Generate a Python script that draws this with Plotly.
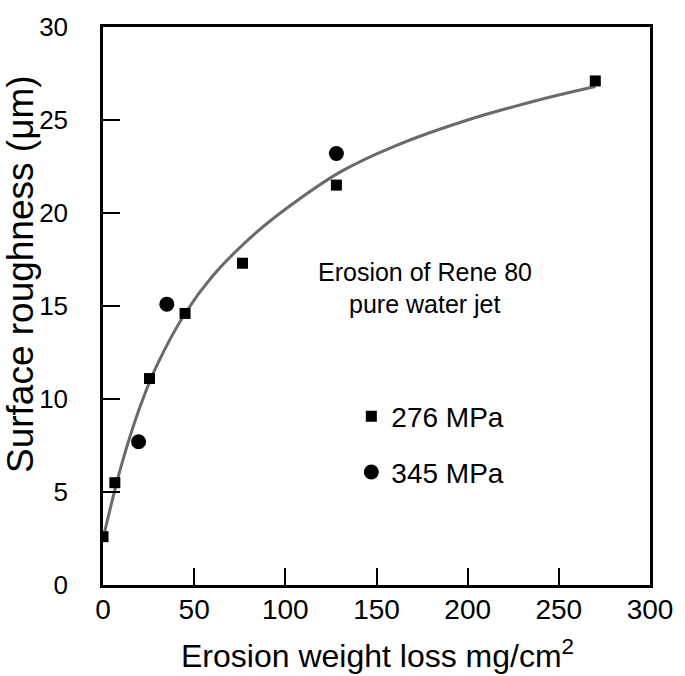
import plotly.graph_objects as go

# Data
x_276 = [0, 6.5, 25.5, 45, 76.5, 128, 270]
y_276 = [2.6, 5.5, 11.1, 14.6, 17.3, 21.5, 27.1]

x_345 = [19.5, 35, 128]
y_345 = [7.7, 15.1, 23.2]

# Trend curve as traced on the picture
curve_x = [1, 10, 20, 30, 45, 60, 80, 100, 130, 160, 200, 240, 270]
curve_y = [2.9, 6.4, 9.5, 11.9, 14.6, 16.6, 18.6, 20.2, 22.2, 23.6, 25.0, 26.1, 26.8]

x_ticks = [0, 50, 100, 150, 200, 250, 300]
y_ticks = [0, 5, 10, 15, 20, 25, 30]

FONT = "Liberation Sans, Arial, sans-serif"

fig = go.Figure()

fig.add_trace(go.Scatter(
    x=curve_x, y=curve_y, mode="lines",
    line=dict(color="#6a6a6a", width=3, shape="spline", smoothing=0.9),
    showlegend=False, hoverinfo="skip",
))

fig.add_trace(go.Scatter(
    x=x_276, y=y_276, mode="markers", name="276 MPa",
    marker=dict(symbol="square", size=11, color="black"),
    legend="legend",
))

fig.add_trace(go.Scatter(
    x=x_345, y=y_345, mode="markers", name="345 MPa",
    marker=dict(symbol="circle", size=15, color="black"),
    legend="legend2",
))

axis_common = dict(
    showline=True, linecolor="black", linewidth=2.5, mirror=True,
    ticks="inside", ticklen=17, tickwidth=2, tickcolor="black",
    showgrid=False, zeroline=False, ticklabeloverflow="allow",
)

fig.update_xaxes(range=[0, 300], tickvals=x_ticks, ticklabelstandoff=-2,
                 tickfont=dict(family=FONT, size=28, color="black"), **axis_common)
fig.update_yaxes(range=[0, 30], tickvals=y_ticks, ticklabelstandoff=27,
                 tickfont=dict(family=FONT, size=26, color="black"), **axis_common)

legend_common = dict(
    font=dict(family=FONT, size=28, color="black"),
    bgcolor="rgba(0,0,0,0)", borderwidth=0,
    xanchor="left", yanchor="middle",
)

fig.update_layout(
    width=685, height=676,
    margin=dict(l=103, r=26, t=15, b=91),
    paper_bgcolor="white", plot_bgcolor="white",
    font=dict(family=FONT, color="black"),
    legend=dict(x=0.454, y=0.302, **legend_common),
    legend2=dict(x=0.454, y=0.202, **legend_common),
    annotations=[
        dict(text="Erosion of Rene 80", xref="paper", yref="paper",
             x=0.588, y=0.561, xanchor="center", yanchor="middle", showarrow=False,
             font=dict(family=FONT, size=25, color="black")),
        dict(text="pure water jet", xref="paper", yref="paper",
             x=0.588, y=0.503, xanchor="center", yanchor="middle", showarrow=False,
             font=dict(family=FONT, size=25, color="black")),
        dict(text="Erosion weight loss mg/cm<sup>2</sup>", xref="paper", yref="paper",
             x=0.502, y=-0.123, xanchor="center", yanchor="middle", showarrow=False,
             font=dict(family=FONT, size=32, color="black")),
        dict(text="Surface roughness (μm)", xref="paper", yref="paper",
             x=-0.152, y=0.557, xanchor="center", yanchor="middle", showarrow=False,
             textangle=-90, font=dict(family=FONT, size=37, color="black")),
    ],
)

fig.write_html("out.html", config={"displayModeBar": False},
               post_script="document.body.style.margin='0';")
